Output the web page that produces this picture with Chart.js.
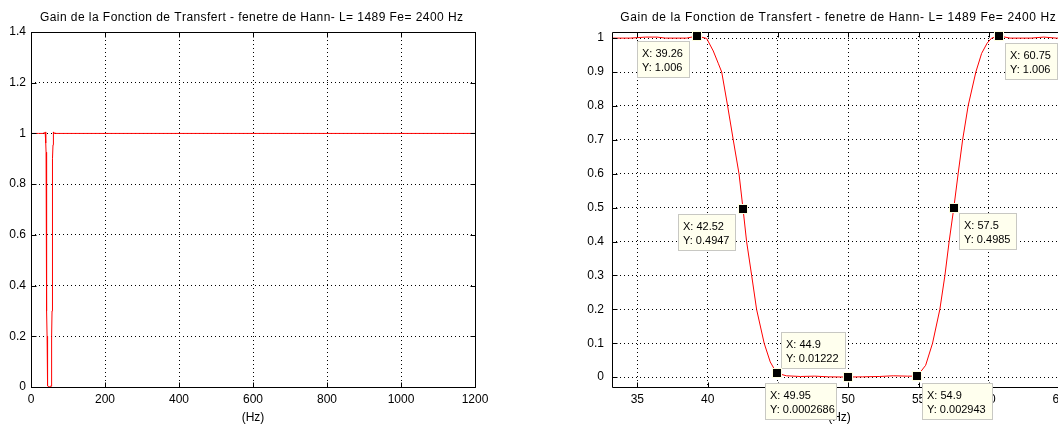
<!DOCTYPE html>
<html><head><meta charset="utf-8">
<script src="https://cdn.jsdelivr.net/npm/chart.js@4.4.1/dist/chart.umd.min.js"></script>
<style>
html,body{margin:0;padding:0;background:#fff;overflow:hidden;width:1058px;height:424px;position:relative;}
#c1{position:absolute;left:0;top:0;}
#c2{position:absolute;left:570px;top:0;}
</style></head><body>
<canvas id="c1" width="530" height="424" style="width:530px;height:424px"></canvas>
<canvas id="c2" width="530" height="424" style="width:530px;height:424px"></canvas>
<script>
const titleText = 'Gain de la Fonction de Transfert - fenetre de Hann- L= 1489 Fe= 2400 Hz';
const xLabel = '(Hz)';

// frequency (Hz) and gain of the transfer function
const freqHz = [0, 20, 33, 34.5, 35.6, 36.4, 37, 38.5, 39.26, 39.93, 40.4, 40.75, 41.0, 41.42, 41.82, 42.23, 42.52,
  42.77, 43.13, 43.48, 44.02, 44.45, 44.9, 45.6, 46.6, 47.6, 48.6, 49.95, 51, 52.2, 53.2, 54.2, 54.9,
  55.5, 55.99, 56.51, 56.87, 57.17, 57.5, 57.81, 58.13, 58.52, 59.07, 59.48, 59.87, 60.19, 60.75,
  61.5, 63, 63.9, 64.8, 66, 1200];
const gain = [1, 1, 1, 1, 1.003, 1.003, 1, 1, 1.006, 0.999, 0.962, 0.926, 0.9, 0.8, 0.7, 0.6, 0.4947,
  0.4, 0.3, 0.2, 0.1, 0.045, 0.01222, 0.004, 0.002, 0.003, 0.001, 0.0002686, 0.001, 0.002, 0.004, 0.003, 0.002943,
  0.035, 0.1, 0.2, 0.3, 0.4, 0.4985, 0.6, 0.7, 0.8, 0.9, 0.955, 0.985, 1.0, 1.006,
  1, 1, 1.003, 1, 1, 1];

// data tips on the zoomed plot
const tipX = [39.26, 42.52, 44.9, 49.95, 54.9, 57.5, 60.75];
const tipY = [1.006, 0.4947, 0.01222, 0.0002686, 0.002943, 0.4985, 1.006];

const FONT = '"Liberation Sans", Arial, Helvetica, sans-serif';
const points = freqHz.map((f, i) => ({x: f, y: gain[i]}));
const fmt = v => String(Math.round(v * 1e6) / 1e6);

function spacedText(ctx, text, cx, y, spacing) {
  // draw text centred at cx with extra letter spacing
  const chars = Array.from(text);
  const widths = chars.map(c => ctx.measureText(c).width);
  const total = widths.reduce((a, b) => a + b, 0) + spacing * (chars.length - 1);
  let x = cx - total / 2;
  ctx.textAlign = 'left';
  chars.forEach((c, i) => { ctx.fillText(c, x, y); x += widths[i] + spacing; });
}

const titlePlugin = {
  id: 'mtitle',
  afterDraw(chart, args, opts) {
    const {ctx, chartArea} = chart;
    ctx.save();
    ctx.font = '12px ' + FONT;
    ctx.fillStyle = '#000';
    ctx.textBaseline = 'middle';
    spacedText(ctx, titleText, (chartArea.left + chartArea.right) / 2 - 1.5, 18, opts.spacing || 0);
    ctx.restore();
  }
};

const framePlugin = {
  id: 'frame',
  afterDatasetsDraw(chart) {
    const {ctx, chartArea: a, scales} = chart;
    const L = Math.round(a.left) + 0.5, R = Math.round(a.right) + 0.5;
    const T = Math.round(a.top) + 0.5, B = Math.round(a.bottom) + 0.5;
    ctx.save();
    ctx.strokeStyle = '#000';
    ctx.lineWidth = 1;
    ctx.setLineDash([]);
    ctx.beginPath();
    ctx.rect(L, T, R - L, B - T);
    const tl = 5;
    scales.x.ticks.forEach(t => {
      const px = Math.round(scales.x.getPixelForValue(t.value)) + 0.5;
      ctx.moveTo(px, B); ctx.lineTo(px, B - tl);
      ctx.moveTo(px, T); ctx.lineTo(px, T + tl);
    });
    scales.y.ticks.forEach(t => {
      const py = Math.round(scales.y.getPixelForValue(t.value)) + 0.5;
      ctx.moveTo(L, py); ctx.lineTo(L + tl, py);
      ctx.moveTo(R, py); ctx.lineTo(R - tl, py);
    });
    ctx.stroke();
    ctx.restore();
  }
};

const tipPlugin = {
  id: 'datatips',
  afterDraw(chart, args, opts) {
    const {ctx, scales} = chart;
    const layout = opts.layout || [];
    ctx.save();
    ctx.font = '11px ' + FONT;
    tipX.forEach((xv, i) => {
      const px = Math.round(scales.x.getPixelForValue(xv));
      const py = Math.round(scales.y.getPixelForValue(tipY[i]));
      const lay = layout[i];
      const l1 = 'X: ' + String(xv), l2 = 'Y: ' + String(tipY[i]);
      const w = lay.w || Math.round(Math.max(ctx.measureText(l1).width, ctx.measureText(l2).width) + 12);
      const h = 37;
      const bx = Math.round(px + lay.dx), by = Math.round(py + lay.dy);
      ctx.fillStyle = 'rgb(255,255,238)';
      ctx.fillRect(bx, by, w, h);
      ctx.strokeStyle = 'rgb(200,200,195)';
      ctx.lineWidth = 1;
      ctx.strokeRect(bx + 0.5, by + 0.5, w - 1, h - 1);
      ctx.fillStyle = '#000';
      ctx.textAlign = 'left';
      ctx.textBaseline = 'middle';
      ctx.fillText(l1, bx + 5, by + 12.5);
      ctx.fillText(l2, bx + 5, by + 26.5);
      // marker
      ctx.fillStyle = 'rgb(255,255,225)';
      ctx.fillRect(px - 5, py - 5, 10, 10);
      ctx.fillStyle = '#000';
      ctx.fillRect(px - 4, py - 4, 8, 8);
    });
    ctx.restore();
  }
};

function axisCommon(extra) {
  return Object.assign({
    type: 'linear',
    grid: {color: '#000', lineWidth: 1, drawTicks: false},
    border: {display: false, dash: [1, 3]},
  }, extra);
}

function makeChart(id, cfg) {
  return new Chart(document.getElementById(id), {
    type: 'scatter',
    data: {datasets: [{data: points, showLine: true, borderColor: 'rgb(255,0,0)', borderWidth: 1,
      pointRadius: 0, pointHoverRadius: 0, tension: 0, fill: false}]},
    options: {
      responsive: false, animation: false, events: [],
      layout: {padding: {top: 32, right: cfg.padRight, left: 0, bottom: 0}},
      plugins: {legend: {display: false}, tooltip: {enabled: false}, title: {display: false},
        mtitle: {spacing: cfg.titleSpacing},
        datatips: {layout: cfg.tipLayout || []}},
      scales: {
        x: axisCommon({
          min: cfg.xmin, max: cfg.xmax,
          ticks: {stepSize: cfg.xstep, includeBounds: false, color: '#000', padding: 5, maxRotation: 0,
            autoSkip: false, font: {family: FONT, size: 12}, callback: v => fmt(v)},
          title: {display: true, text: xLabel, color: '#000', font: {family: FONT, size: 12}, padding: {top: 0, bottom: -1}},
          afterFit: s => { s.height = 37; }
        }),
        y: axisCommon({
          min: cfg.ymin, max: cfg.ymax,
          ticks: {stepSize: cfg.ystep, includeBounds: false, color: '#000', padding: cfg.yPad,
            autoSkip: false, font: {family: FONT, size: 12}, callback: v => fmt(v)},
          afterFit: s => { s.width = cfg.yWidth; }
        })
      }
    },
    plugins: cfg.tips ? [titlePlugin, framePlugin, tipPlugin] : [titlePlugin, framePlugin]
  });
}

makeChart('c1', {xmin: 0, xmax: 1200, xstep: 200, ymin: 0, ymax: 1.4, ystep: 0.2,
  yWidth: 31, yPad: 5, padRight: 55, titleSpacing: 0.44});

makeChart('c2', {xmin: 33.2, xmax: 65.55, xstep: 5, ymin: -0.029, ymax: 1.018, ystep: 0.1,
  yWidth: 42, yPad: 8, padRight: 33, tips: true, titleSpacing: 0.62,
  tipLayout: [
    {dx: -60, dy: 5}, {dx: -65, dy: 5}, {dx: 4, dy: -41}, {dx: -83, dy: 6, w: 72},
    {dx: 5, dy: 7}, {dx: 5, dy: 5}, {dx: 6, dy: 7}
  ]});
</script>
</body></html>
